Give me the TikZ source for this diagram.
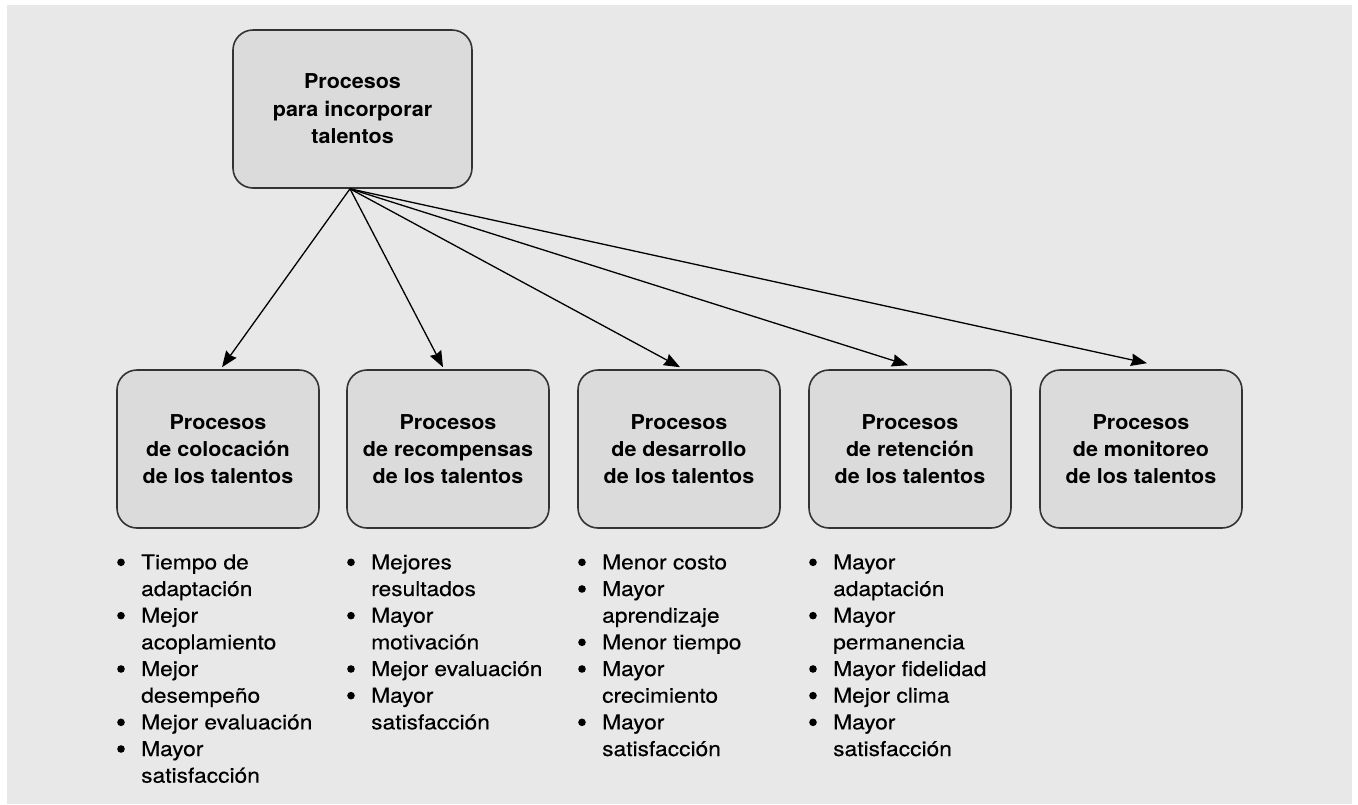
\documentclass[tikz,border=0pt]{standalone}
\usepackage{fontspec}
\newfontfamily\listfont{TeX Gyre Heros}[FakeStretch=1.11, FakeBold=0.25]
\newfontfamily\boxfont{TeX Gyre Heros}[FakeStretch=1.05]
\usetikzlibrary{arrows.meta,calc}
\definecolor{bggray}{HTML}{E8E8E8}
\definecolor{boxgray}{HTML}{DBDBDB}
\definecolor{edgegray}{HTML}{333333}
\tikzset{
  procbox/.style={draw=edgegray, line width=1.6pt, fill=boxgray, rounded corners=20pt,
    minimum width=202pt, minimum height=158pt, align=center, inner sep=0pt,
    font=\boxfont\bfseries\fontsize{20.5}{26.7}\selectfont},
  topbox/.style={procbox, minimum width=239pt, minimum height=158pt,
    font=\boxfont\bfseries\fontsize{20.5}{27.5}\selectfont},
  arr/.style={line width=1.3pt, -{Stealth[length=16pt,width=12.5pt,inset=1.5pt]}},
  itemtext/.style={anchor=base west, inner sep=0pt, font=\listfont\fontsize{20.5}{26.7}\selectfont},
  bulletdot/.style={fill=black},
}
\newcommand\proclist[3]{%
  \foreach [count=\n] \kk/\itm in {#3} {%
    \pgfmathsetmacro\yy{569.3+(\n-1)*26.67}
    \node[itemtext] (#1-\n) at (#2+24,\yy) {\itm};
    \ifnum\kk=1
      \fill[bulletdot] ([xshift=-20pt,yshift=7pt]#1-\n.base west) circle (3.8pt);
    \fi
  }%
}
\begin{document}
\begin{tikzpicture}[x=1pt,y=-1pt]
\useasboundingbox (0,0) rectangle (1358,804);
\fill[bggray] (7,5) rectangle (1352,804);

\node[topbox] (top) at (352.5,109) {Procesos\\para incorporar\\talentos};

\node[procbox] (b1) at (218,449) {Procesos\\de colocación\\de los talentos};
\node[procbox] (b2) at (448,449) {Procesos\\de recompensas\\de los talentos};
\node[procbox] (b3) at (679,449) {Procesos\\de desarrollo\\de los talentos};
\node[procbox] (b4) at (910,449) {Procesos\\de retención\\de los talentos};
\node[procbox] (b5) at (1141,449) {Procesos\\de monitoreo\\de los talentos};

\coordinate (src) at ([xshift=-2.5pt]top.south);
\draw[arr] (src) -- ([xshift=4pt,yshift=2pt]b1.north);
\draw[arr] (src) -- ([xshift=-5pt,yshift=2pt]b2.north);
\draw[arr] (src) -- ([xshift=1pt,yshift=2pt]b3.north);
\draw[arr] (src) -- ([xshift=-2pt,yshift=4pt]b4.north);
\draw[arr] (src) -- ([xshift=6pt,yshift=6pt]b5.north);

\proclist{c1}{117}{1/Tiempo de, 0/adaptación, 1/Mejor, 0/acoplamiento, 1/Mejor, 0/desempeño, 1/Mejor evaluación, 1/Mayor, 0/satisfacción}
\proclist{c2}{347}{1/Mejores, 0/resultados, 1/Mayor, 0/motivación, 1/Mejor evaluación, 1/Mayor, 0/satisfacción}
\proclist{c3}{578}{1/Menor costo, 1/Mayor, 0/aprendizaje, 1/Menor tiempo, 1/Mayor, 0/crecimiento, 1/Mayor, 0/satisfacción}
\proclist{c4}{809}{1/Mayor, 0/adaptación, 1/Mayor, 0/permanencia, 1/Mayor fidelidad, 1/Mejor clima, 1/Mayor, 0/satisfacción}
\end{tikzpicture}
\end{document}
